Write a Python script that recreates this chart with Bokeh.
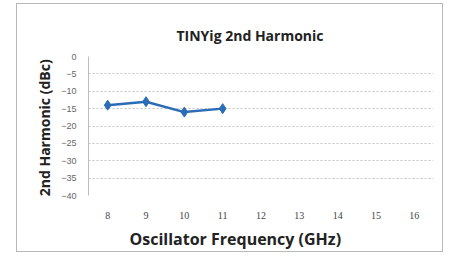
from bokeh.plotting import figure
from bokeh.models import Range1d, FixedTicker, Title, Spacer
from bokeh.layouts import row, column
from bokeh.embed import file_html
from bokeh.resources import INLINE

freq_ghz = [8, 9, 10, 11]
harmonic_dbc = [-14, -13, -16, -15]
x_ticks = [8, 9, 10, 11, 12, 13, 14, 15, 16]
y_ticks = [0, -5, -10, -15, -20, -25, -30, -35, -40]

p = figure(width=427, height=249, x_range=Range1d(7.5, 16.5), y_range=Range1d(-40, 0),
           output_backend="svg", toolbar_location=None,
           min_border_left=71, min_border_right=11, min_border_top=52, min_border_bottom=57,
           styles={"border": "1px solid #b8b8b8"})
p.outline_line_color = None
p.background_fill_color = "white"
p.border_fill_color = "white"

p.title.text = "TINYig  2nd Harmonic"
p.title.align = "left"
p.title.offset = 88
p.title.text_font = "Open Sans"
p.title.text_font_size = "14px"
p.title.text_font_style = "bold"
p.title.text_color = "#222222"
p.title.standoff = 23

p.xgrid.grid_line_color = None
p.ygrid.grid_line_color = "#c4c4c4"
p.ygrid.grid_line_dash = "2 2"
p.ygrid.grid_line_width = 1

p.xaxis.ticker = FixedTicker(ticks=x_ticks)
p.yaxis.ticker = FixedTicker(ticks=y_ticks)
p.xaxis.major_label_overrides = {t: str(t) for t in x_ticks}
for ax in (p.xaxis, p.yaxis):
    ax.major_tick_line_color = None
    ax.minor_tick_line_color = None
p.xaxis.axis_line_color = None
p.yaxis.axis_line_color = "#bdbdbd"
p.xaxis.major_label_standoff = 10
p.xaxis.major_label_text_font = "Liberation Serif"
p.xaxis.major_label_text_font_size = "10px"
p.xaxis.major_label_text_color = "#444444"
p.yaxis.major_label_standoff = 6
p.yaxis.major_label_text_font = "Liberation Sans"
p.yaxis.major_label_text_font_size = "9px"
p.yaxis.major_label_text_color = "#666666"

p.yaxis.axis_label = "2nd Harmonic  (dBc)"
p.yaxis.axis_label_text_font = "Open Sans"
p.yaxis.axis_label_text_font_size = "14px"
p.yaxis.axis_label_text_font_style = "bold"
p.yaxis.axis_label_text_color = "#222222"
p.yaxis.axis_label_standoff = 4

xlab = Title(text="Oscillator Frequency  (GHz)", align="left", offset=41,
             text_font="Open Sans", text_font_size="16px", text_font_style="bold",
             text_color="#222222", standoff=8)
p.add_layout(xlab, "below")

p.line(freq_ghz, harmonic_dbc, line_color="#2a6cb6", line_width=2.5)
p.scatter(freq_ghz, harmonic_dbc, marker="diamond", size=10, fill_color="#2a6cb6", line_color="#2a6cb6")

layout = column(Spacer(height=3, width=10), row(Spacer(width=16, height=10), p))
open("out.html", "w").write(file_html(layout, INLINE))
